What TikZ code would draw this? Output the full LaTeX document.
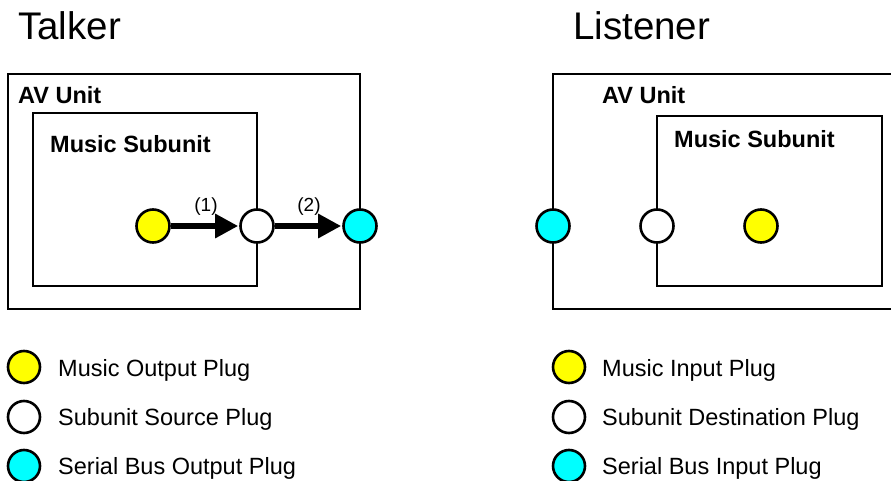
\documentclass[tikz,border=0pt]{standalone}
\usepackage{fontspec}
\setmainfont{Liberation Sans}
\usetikzlibrary{arrows.meta}
\definecolor{plugcyan}{RGB}{0,255,255}
\definecolor{plugyellow}{RGB}{255,255,0}
\begin{document}
\begin{tikzpicture}[x=1pt,y=-1pt,
  box/.style={draw=black,line width=2.6pt},
  plug/.style={circle,draw=black,line width=2.6pt,minimum size=33pt,inner sep=0pt},
  yplug/.style={plug,fill=plugyellow},
  wplug/.style={plug,fill=white},
  cplug/.style={plug,fill=plugcyan},
  lplug/.style={plug,minimum size=32pt},
  bold/.style={font=\fontsize{23.5}{26}\selectfont\bfseries,anchor=base west,inner sep=0pt},
  title/.style={font=\fontsize{38.5}{40}\selectfont,anchor=base west,inner sep=0pt},
  legend/.style={font=\fontsize{23.5}{26}\selectfont,anchor=base west,inner sep=0pt},
  lab/.style={font=\fontsize{19}{20}\selectfont,inner sep=0pt},
  flow/.style={line width=6pt,-{Triangle[length=23pt,width=23pt]},shorten >=1pt}]
\useasboundingbox (0,0) rectangle (891,481);
\clip (0,0) rectangle (891,481);
% titles
\node[title] (t1) at (18,40) {Talker};
\node[title] (t2) at (573,40) {Listener};
% talker boxes
\draw[box] (8,74) rectangle (360,309);
\draw[box] (33,113) rectangle (257,286);
\node[bold] (av1) at (18,104) {AV Unit};
\node[bold] (ms1) at (50,153) {Music Subunit};
% listener boxes
\draw[box] (900,74) -- (553,74) -- (553,309) -- (900,309);
\draw[box] (657,116) rectangle (882,286);
\node[bold] (av2) at (602,104) {AV Unit};
\node[bold] (ms2) at (674,148) {Music Subunit};
% talker plugs
\node[yplug] (y1) at (153,226) {};
\node[wplug] (w1) at (257,226) {};
\node[cplug] (c1) at (360,226) {};
\draw[flow] (y1.east) -- (w1.west);
\draw[flow] (w1.east) -- (c1.west);
\node[lab] (l1) at (206,207) {(1)};
\node[lab] (l2) at (309,207) {(2)};
% listener plugs
\node[cplug] (c2) at (553,226) {};
\node[wplug] (w2) at (657,226) {};
\node[yplug] (y2) at (761,226) {};
% legends
\node[lplug,fill=plugyellow] (ly1) at (24,367) {};
\node[lplug,fill=white] (lw1) at (24,417) {};
\node[lplug,fill=plugcyan] (lc1) at (24,466) {};
\node[legend] (tx1) at (58,376) {Music Output Plug};
\node[legend] (tx2) at (58,425) {Subunit Source Plug};
\node[legend] (tx3) at (58,474) {Serial Bus Output Plug};
\node[lplug,fill=plugyellow] (ly2) at (569,367) {};
\node[lplug,fill=white] (lw2) at (569,417) {};
\node[lplug,fill=plugcyan] (lc2) at (569,466) {};
\node[legend] (tx4) at (602,376) {Music Input Plug};
\node[legend] (tx5) at (602,425) {Subunit Destination Plug};
\node[legend] (tx6) at (602,474) {Serial Bus Input Plug};
\end{tikzpicture}
\end{document}
